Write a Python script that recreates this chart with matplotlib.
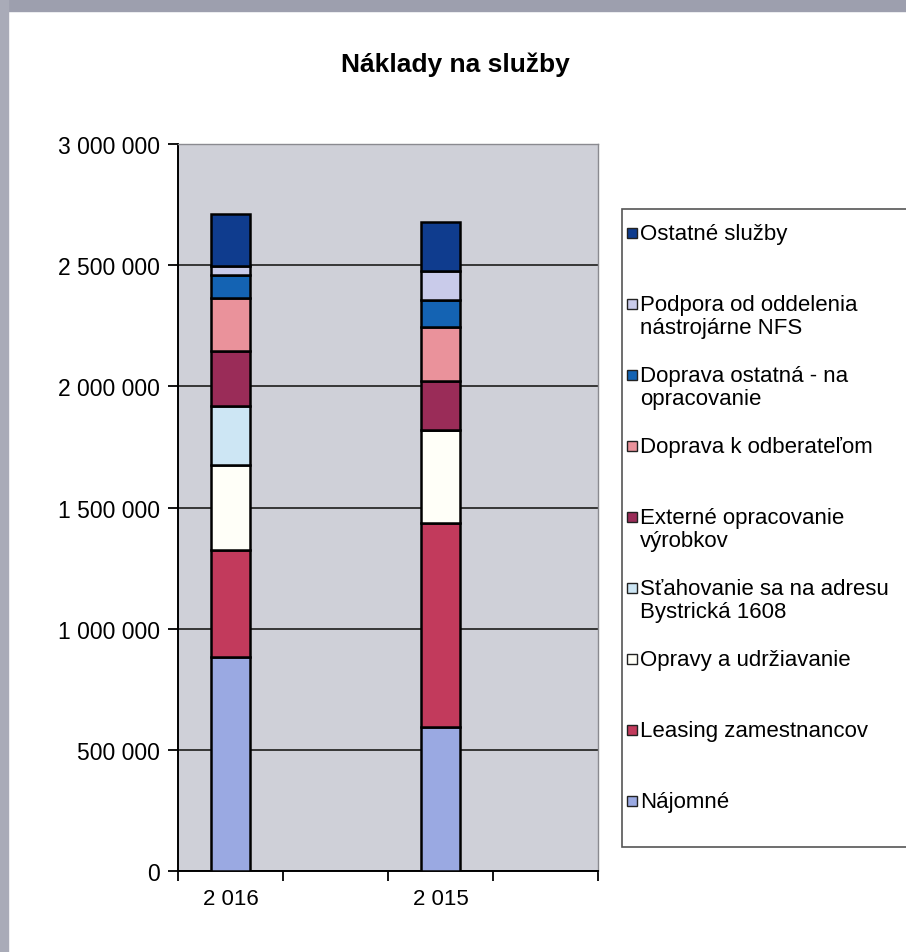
import matplotlib
matplotlib.use("Agg")
import matplotlib.pyplot as plt
from matplotlib.patches import Rectangle

plt.rcParams['font.family'] = ['Liberation Sans', 'DejaVu Sans']

# data
years = ['2 016', '2 015']
series = [
    'Nájomné',
    'Leasing zamestnancov',
    'Opravy a udržiavanie',
    'Sťahovanie sa na adresu\nBystrická 1608',
    'Externé opracovanie\nvýrobkov',
    'Doprava k odberateľom',
    'Doprava ostatná - na\nopracovanie',
    'Podpora od oddelenia\nnástrojárne NFS',
    'Ostatné služby',
]
values_2016 = [885000, 440000, 349000, 243000, 228000, 219000, 95000, 37000, 215000]
values_2015 = [596000, 842000, 380000, 0, 203000, 223000, 111000, 120000, 203000]
colors = ['#9aa9e2', '#c23a5c', '#fffff8', '#cde6f4', '#9a2c58',
          '#ea929b', '#1463b3', '#c9cbea', '#0f3c8e']

W, H = 906, 953
fig = plt.figure(figsize=(W / 100, H / 100), dpi=100)

# photo border strips
fig.patches.append(Rectangle((0, 1 - 12 / H), 1, 12 / H, transform=fig.transFigure,
                             color='#9d9fae', zorder=0))
fig.patches.append(Rectangle((0, 0), 8 / W, 1, transform=fig.transFigure,
                             color='#a9abb8', zorder=0))

ax = fig.add_axes([178 / W, 1 - 872 / H, (598 - 178) / W, (872 - 145) / H])
ax.set_facecolor('#cfd0d8')

xpos = [0, 2]
bottoms = [0, 0]
for i, name in enumerate(series):
    vals = [values_2016[i], values_2015[i]]
    ax.bar(xpos, vals, width=0.38, bottom=bottoms, color=colors[i],
           edgecolor='black', linewidth=1.8, zorder=3)
    bottoms = [b + v for b, v in zip(bottoms, vals)]

ax.set_ylim(0, 3000000)
ax.set_xlim(-0.5, 3.5)
yt = list(range(0, 3000001, 500000))
ax.set_yticks(yt)
ax.set_yticklabels([f"{v:,}".replace(',', ' ') for v in yt], fontsize=16.5)
ax.yaxis.grid(True, color='#2a2a2a', linewidth=1.3, zorder=1)
ax.set_axisbelow(True)

ax.set_xticks(xpos)
ax.set_xticklabels(years, fontsize=16)
ax.tick_params(axis='x', which='major', length=0, pad=12)
ax.set_xticks([-0.5, 0.5, 1.5, 2.5, 3.5], minor=True)
ax.tick_params(axis='x', which='minor', length=7, width=1.3, direction='out')
ax.tick_params(axis='y', length=7, width=1.3, direction='out', pad=6)

for s in ['left', 'bottom']:
    ax.spines[s].set_color('black')
    ax.spines[s].set_linewidth(1.4)
for s in ['top', 'right']:
    ax.spines[s].set_color('#8a8a90')
    ax.spines[s].set_linewidth(1.0)

fig.text(455 / W, 1 - 65 / H, 'Náklady na služby', ha='center', va='center',
         fontsize=19, fontweight='bold')

# legend box (entries listed top to bottom in reverse order)
fig.patches.append(Rectangle((622 / W, 1 - 848 / H), (W - 622) / W + 0.01, (848 - 210) / H,
                             transform=fig.transFigure, facecolor='white',
                             edgecolor='#555555', linewidth=1.2, zorder=1))
for k, i in enumerate(reversed(range(len(series)))):
    y = 234 + 71.0 * k
    fig.patches.append(Rectangle((627 / W, 1 - (y + 5) / H), 10 / W, 10 / H,
                                 transform=fig.transFigure, facecolor=colors[i],
                                 edgecolor='#222222', linewidth=1.0, zorder=2))
    fig.text(640 / W, 1 - (y - 10) / H, series[i], ha='left', va='top',
             fontsize=16, linespacing=1.1, zorder=2)

fig.savefig('out.png', dpi=100, facecolor='white')
